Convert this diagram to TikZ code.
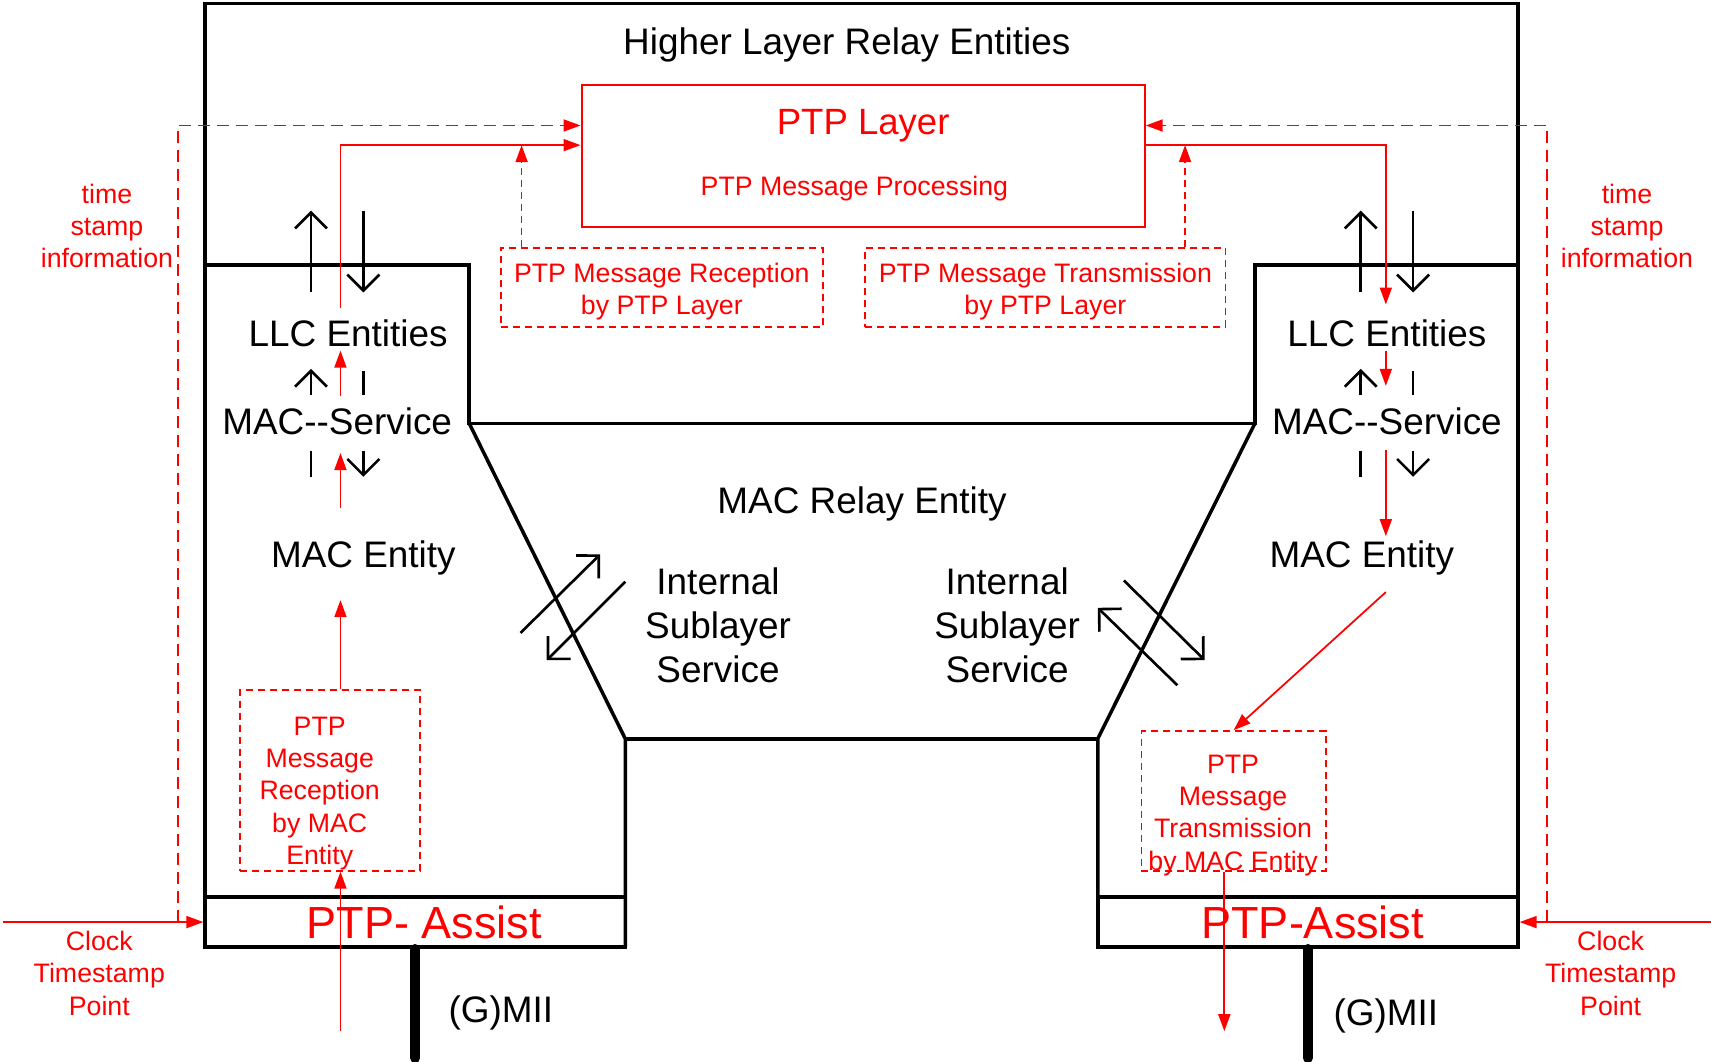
\documentclass[tikz,border=0pt]{standalone}
\usepackage{fontspec}
\setmainfont{Liberation Sans}
\usetikzlibrary{arrows.meta,fit}

\begin{document}
\begin{tikzpicture}[x=0.010912cm, y=-0.010912cm,
    wall/.style={line width=1pt},
    svc/.style={line width=0.75pt, -{Straight Barb[length=1.6mm,width=3.2mm]}},
    svcbar/.style={line width=0.75pt},
    sig/.style={red, line width=0.5pt, -{Triangle[length=1.7mm,width=1.2mm]}},
    tsline/.style={sig, dash pattern=on 1.2mm off 0.7mm},
    hint/.style={sig, dash pattern=on 0.7mm off 0.5mm},
    dbox/.style={draw=red, line width=0.5pt, dash pattern=on 0.7mm off 0.5mm, inner sep=0pt},
    blacktxt/.style={font=\fontsize{10.5}{12.6}\selectfont, align=center, inner sep=1pt},
    redtxt/.style={text=red, font=\fontsize{7.6}{9.2}\selectfont, align=center, inner sep=1pt},
    assisttxt/.style={text=red, font=\fontsize{12.8}{14}\selectfont, inner sep=1pt},
  ]
\useasboundingbox (0,0) rectangle (1568,973);

% bridge outline
\draw[wall] (188,868) -- (188,3) -- (1391,3) -- (1391,868);
\draw[wall] (188,243) -- (430,243) -- (430,388) -- (1150,388) -- (1150,243) -- (1391,243);
\draw[wall] (430,388) -- (573,677) -- (573,868);
\draw[wall] (1150,388) -- (1006,677) -- (1006,868);
\draw[wall] (573,677) -- (1006,677);
\node[draw, wall, inner sep=0pt, fit={(188,822) (573,868)}] (assistL) {};
\node[draw, wall, inner sep=0pt, fit={(1006,822) (1391,868)}] (assistR) {};
\draw[line width=2.8pt, line cap=round] (assistL.south) -- ++(0,100);
\draw[line width=2.8pt, line cap=round] (assistR.south) -- ++(0,100);

% texts
\node[blacktxt] (hlre) at (776,41) {Higher Layer Relay Entities};
\node[blacktxt] (llcL) at (319,305) {LLC Entities};
\node[blacktxt] (macsL) at (309,386) {MAC-{}-Service};
\node[blacktxt] (macL) at (333,511) {MAC Entity};
\node[blacktxt] (llcR) at (1271,305) {LLC Entities};
\node[blacktxt] (macsR) at (1271,386) {MAC-{}-Service};
\node[blacktxt] (macR) at (1248,511) {MAC Entity};
\node[blacktxt] (relay) at (790,462) {MAC Relay Entity};
\node[blacktxt] (issL) at (658,573) {Internal\\Sublayer\\Service};
\node[blacktxt] (issR) at (923,573) {Internal\\Sublayer\\Service};
\node[blacktxt] (gmiiL) at (459,928) {(G)MII};
\node[blacktxt] (gmiiR) at (1270,931) {(G)MII};
\node[assisttxt] (assistLtxt) at (389,845) {PTP- Assist};
\node[assisttxt] (assistRtxt) at (1203,845) {PTP-Assist};
\node[redtxt] (tsinfoL) at (98,207) {time\\stamp\\information};
\node[redtxt] (tsinfoR) at (1491,207) {time\\stamp\\information};
\node[redtxt] (clockL) at (91,892) {Clock\\Timestamp\\Point};
\node[redtxt] (clockR) at (1476,892) {Clock\\Timestamp\\Point};

% PTP boxes
\node[draw=red, line width=0.6pt, inner sep=0pt, fit={(533,78) (1049,208)}] (ptplayer) {};
\node[text=red, font=\fontsize{10.4}{12}\selectfont] (ptptitle) at (791,115) {PTP Layer};
\node[redtxt] (ptpproc) at (783,173) {PTP Message Processing};
\node[dbox, fit={(459,227) (754,300)}] (rxptp) {};
\node[redtxt, yshift=-1.2pt] (rxptptxt) at (rxptp.center) {PTP Message Reception\\by PTP Layer};
\node[dbox, fit={(793,227) (1123,300)}] (txptp) {};
\node[redtxt, yshift=-1.2pt] (txptptxt) at (txptp.center) {PTP Message Transmission\\by PTP Layer};
\node[dbox, fit={(220,632) (385,798)}] (rxmac) {};
\node[redtxt] (rxmactxt) at (293,727) {PTP\\Message\\Reception\\by MAC\\Entity};
\node[dbox, fit={(1046,670) (1215,798)}] (txmac) {};
\node[redtxt] (txmactxt) at (1130,747) {PTP\\Message\\Transmission\\by MAC Entity};

% service arrows
\foreach \x in {285,1247} {
  \draw[svc] (\x,268) -- (\x,193);
  \draw[svc] ({\x+48},193) -- ({\x+48},268);
  \draw[svc] (\x,362) -- (\x,338);
  \draw[svcbar] ({\x+48},340) -- ({\x+48},362);
  \draw[svcbar] (\x,413) -- (\x,437);
  \draw[svc] ({\x+48},413) -- ({\x+48},437);
}
\draw[svc] (477,580) -- (550,508);
\draw[svc] (573,533) -- (501,605);
\draw[svc] (1030,532) -- (1104,605);
\draw[svc] (1079,628) -- (1006,557);

% reception path
\coordinate (inL) at (312,945);
\coordinate (hopL) at (312,133);
\draw[sig] (inL) -- (rxmac.south -| inL);
\draw[sig, shorten >=6pt] (rxmac.north -| inL) -- (macL.south -| inL);
\draw[sig, shorten <=8pt, shorten >=4pt] (macL.north -| inL) -- (macsL.south -| inL);
\draw[sig, shorten <=2pt] (macsL.north -| inL) -- (llcL.south -| inL);
\draw[sig, shorten <=2pt] (llcL.north -| inL) -- (hopL) -- (hopL -| ptplayer.west);
\coordinate (rxtip) at (478,133);
\draw[hint] (rxptp.north -| rxtip) -- (rxtip);

% transmission path
\coordinate (hopR) at (1270,133);
\coordinate (outR) at (1122,945);
\draw[sig, shorten >=3pt] (ptplayer.east |- hopR) -- (hopR) -- (llcR.north -| hopR);
\draw[sig, shorten >=5pt] (llcR.south -| hopR) -- (macsR.north -| hopR);
\draw[sig, shorten <=3pt] (macsR.south -| hopR) -- (macR.north -| hopR);
\draw[sig] (macR.south -| hopR) ++(0,12) -- (txmac.north);
\draw[sig] (txmac.south -| outR) -- (outR);
\coordinate (txtip) at (1086,133);
\draw[hint] (txptp.north -| txtip) -- (txtip);

% time stamps
\coordinate (clkL) at (3,845);
\coordinate (tsL) at (163,845);
\coordinate (tsTopL) at (163,115);
\draw[sig] (clkL) -- (assistL.west);
\draw[tsline] (tsL) -- (tsTopL) -- (tsTopL -| ptplayer.west);
\coordinate (clkR) at (1568,845);
\coordinate (tsR) at (1418,845);
\coordinate (tsTopR) at (1418,115);
\draw[sig] (clkR) -- (assistR.east);
\draw[tsline] (tsR) -- (tsTopR) -- (tsTopR -| ptplayer.east);
\end{tikzpicture}
\end{document}
